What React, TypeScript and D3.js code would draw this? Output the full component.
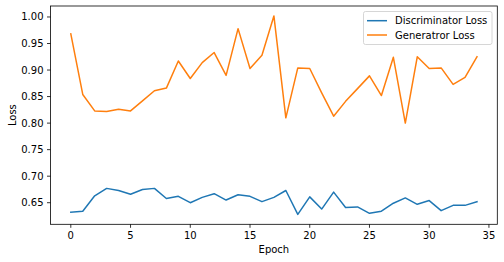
import React from "react";
import * as d3 from "d3";

const epochs: number[] = Array.from({ length: 35 }, (_, i) => i);
const discriminatorLoss: number[] = [
  0.632, 0.634, 0.663, 0.677, 0.673, 0.666, 0.675, 0.677, 0.658, 0.662,
  0.65, 0.66, 0.667, 0.655, 0.665, 0.662, 0.652, 0.66, 0.673, 0.628,
  0.661, 0.638, 0.67, 0.641, 0.642, 0.63, 0.634, 0.649, 0.659, 0.647,
  0.654, 0.635, 0.645, 0.645, 0.652,
];
const generatorLoss: number[] = [
  0.968, 0.854, 0.823, 0.822, 0.826, 0.823, 0.842, 0.861, 0.866, 0.917,
  0.884, 0.914, 0.933, 0.89, 0.978, 0.903, 0.928, 1.002, 0.81, 0.904,
  0.903, 0.857, 0.813, 0.841, 0.865, 0.889, 0.852, 0.924, 0.8, 0.925,
  0.903, 0.904, 0.873, 0.886, 0.925,
];
const seriesNames: string[] = ["Discriminator Loss", "Generatror Loss"];
const seriesColors: string[] = ["#1f77b4", "#ff7f0e"];
const xTicks: number[] = [0, 5, 10, 15, 20, 25, 30, 35];
const yTicks: number[] = [0.65, 0.7, 0.75, 0.8, 0.85, 0.9, 0.95, 1.0];

const W = 504;
const H = 262;
const left = 50.5;
const right = 497.3;
const top = 6;
const bottom = 224.3;
const font = "DejaVu Sans, sans-serif";

export default function App() {
  const allY = [...discriminatorLoss, ...generatorLoss];
  const yMin = d3.min(allY)!;
  const yMax = d3.max(allY)!;
  const yPad = (yMax - yMin) * 0.05;
  const xPad = (34 - 0) * 0.05;
  const x = d3.scaleLinear().domain([0 - xPad, 34 + xPad]).range([left, right]);
  const y = d3.scaleLinear().domain([yMin - yPad, yMax + yPad]).range([bottom, top]);
  const line = d3
    .line<number>()
    .x((_, i) => x(epochs[i]))
    .y((d) => y(d));
  const series = [discriminatorLoss, generatorLoss];
  const fmt = d3.format(".2f");

  return (
    <svg
      width={W}
      height={H}
      style={{ position: "absolute", left: 0, top: 0, background: "#fff" }}
      fontFamily={font}
    >
      <rect x={0} y={0} width={W} height={H} fill="#fff" />
      <defs>
        <clipPath id="plotclip">
          <rect x={left} y={top} width={right - left} height={bottom - top} />
        </clipPath>
      </defs>
      <g clipPath="url(#plotclip)">
        {series.map((s, k) => (
          <path
            key={k}
            d={line(s) || ""}
            fill="none"
            stroke={seriesColors[k]}
            strokeWidth={1.5}
            strokeLinejoin="round"
            strokeLinecap="square"
          />
        ))}
      </g>
      {/* spines */}
      <rect
        x={left}
        y={top}
        width={right - left}
        height={bottom - top}
        fill="none"
        stroke="#000"
        strokeWidth={0.8}
      />
      {/* x ticks */}
      {xTicks.map((t) => (
        <g key={"x" + t}>
          <line x1={x(t)} x2={x(t)} y1={bottom} y2={bottom + 3.5} stroke="#000" strokeWidth={0.8} />
          <text x={x(t)} y={bottom + 15} fontSize={10} textAnchor="middle" fill="#000">
            {t}
          </text>
        </g>
      ))}
      {/* y ticks */}
      {yTicks.map((t) => (
        <g key={"y" + t}>
          <line x1={left - 3.5} x2={left} y1={y(t)} y2={y(t)} stroke="#000" strokeWidth={0.8} />
          <text
            x={left - 7}
            y={y(t)}
            fontSize={10}
            textAnchor="end"
            dominantBaseline="central"
            fill="#000"
          >
            {fmt(t)}
          </text>
        </g>
      ))}
      <text x={(left + right) / 2} y={253} fontSize={10} textAnchor="middle" fill="#000">
        Epoch
      </text>
      <text
        transform={`translate(15.5, ${(top + bottom) / 2}) rotate(-90)`}
        fontSize={10}
        textAnchor="middle"
        fill="#000"
      >
        Loss
      </text>
      {/* legend */}
      <g>
        <rect
          x={363.5}
          y={11.5}
          width={128.5}
          height={33}
          rx={2}
          fill="#fff"
          fillOpacity={0.8}
          stroke="#cccccc"
          strokeWidth={0.8}
        />
        {seriesNames.map((n, k) => (
          <g key={n}>
            <line
              x1={367}
              x2={387}
              y1={20.7 + k * 14.3}
              y2={20.7 + k * 14.3}
              stroke={seriesColors[k]}
              strokeWidth={1.5}
            />
            <text x={395} y={20.7 + k * 14.3} fontSize={10} dominantBaseline="central" fill="#000">
              {n}
            </text>
          </g>
        ))}
      </g>
    </svg>
  );
}
